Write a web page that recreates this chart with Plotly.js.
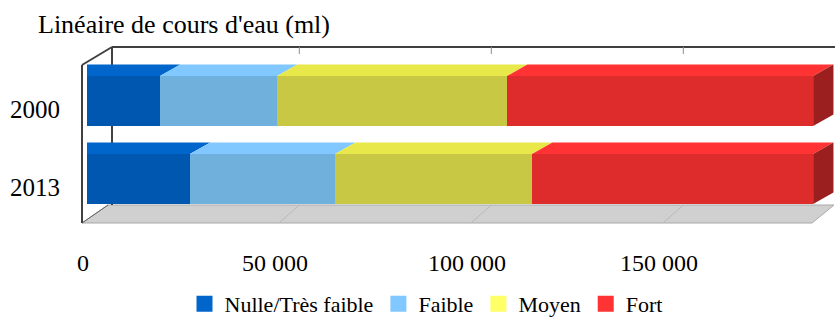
<!DOCTYPE html>
<html>
<head>
<meta charset="utf-8">
<script src="https://cdn.plot.ly/plotly-3.0.1.min.js"></script>
<style>html,body{margin:0;padding:0;background:#fff;}#chart{width:835px;height:318px;}</style>
</head>
<body>
<div id="chart"></div>
<script>
// ---- data ----
const years = ['2000', '2013'];
const seriesNames = ['Nulle/Très faible', 'Faible', 'Moyen', 'Fort'];
const nulle  = [19000, 26800];
const faible = [30500, 37800];
const moyen  = [59900, 51300];
const fort   = [79700, 73200];
const xTicks = [0, 50000, 100000, 150000];
const xTickText = ['0', '50 000', '100 000', '150 000'];

// ---- styles ----
const frontColors = ['#0057b0', '#70b0dc', '#c8c844', '#de2c2c'];
const topColors   = ['#0066cc', '#80c8ff', '#e8e84a', '#ff3333'];
const legendColors = ['#0066cc', '#80c8ff', '#ffff66', '#ff3333'];
const sideColor = '#9c1f1f';
const FONT = 'Liberation Serif, Times New Roman, serif';

const series = [nulle, faible, moyen, fort];
const yPos = years.map((_, i) => i);
const barW = 0.64;
const dX = 5300;   // depth in x data units
const dY = 0.148;  // depth in y data units

const traces = [];
series.forEach((vals, s) => {
  traces.push({
    type: 'bar', orientation: 'h', y: yPos, x: vals, width: barW,
    marker: {color: frontColors[s], line: {width: 0}},
    showlegend: false, hoverinfo: 'x'
  });
});
// legend proxies
series.forEach((vals, s) => {
  traces.push({
    type: 'scatter', mode: 'markers', x: [null], y: [null], name: seriesNames[s],
    marker: {symbol: 'square', size: 19, color: legendColors[s]}, showlegend: true
  });
});

const shapes = [];
// left wall & floor (decor, paper coords)
function px(x) { return (x - 87) / 748; }
function py(y) { return (223 - y) / 171; }
shapes.push({type: 'path', xref: 'paper', yref: 'paper', layer: 'below',
  path: `M${px(82)},${py(223)} L${px(812)},${py(223)} L${px(834)},${py(205)} L${px(108)},${py(205)} Z`,
  fillcolor: '#d0d0d0', line: {color: '#a8a8a8', width: 1}});
shapes.push({type: 'line', xref: 'paper', yref: 'paper', x0: px(82), y0: py(223), x1: px(82), y1: py(65), line: {color: '#404040', width: 2}});
shapes.push({type: 'line', xref: 'paper', yref: 'paper', x0: px(82), y0: py(65), x1: px(112), y1: py(47), line: {color: '#404040', width: 2}, layer: 'below'});
shapes.push({type: 'line', xref: 'paper', yref: 'paper', x0: px(112), y0: py(47), x1: px(835), y1: py(47), line: {color: '#404040', width: 2}, layer: 'below'});
shapes.push({type: 'line', xref: 'paper', yref: 'paper', x0: px(112), y0: py(47), x1: px(112), y1: py(205), line: {color: '#404040', width: 2}, layer: 'below'});
shapes.push({type: 'line', xref: 'paper', yref: 'paper', x0: px(82), y0: py(223), x1: px(108), y1: py(205), line: {color: '#606060', width: 1}, layer: 'below'});
// back ticks and floor grid lines from axis tick values
xTicks.slice(1).forEach(t => {
  shapes.push({type: 'line', xref: 'x', yref: 'paper', x0: t + dX, x1: t + dX, y0: py(47), y1: py(54), line: {color: '#909090', width: 1}, layer: 'below'});
  shapes.push({type: 'line', xref: 'x', yref: 'paper', x0: t, x1: t + dX, y0: py(223), y1: py(205), line: {color: '#b8b8b8', width: 1}, layer: 'below'});
});
// 3D top faces & right side faces from data
yPos.forEach((yc, j) => {
  let start = 0;
  const yt = yc - barW / 2, yb = yc + barW / 2;
  series.forEach((vals, s) => {
    const end = start + vals[j];
    const bx0 = s === 0 ? start : start + dX;
    shapes.push({type: 'path', xref: 'x', yref: 'y', layer: 'above',
      path: `M${start},${yt} L${end},${yt} L${end + dX},${yt - dY} L${bx0},${yt - dY} Z`,
      fillcolor: topColors[s], line: {width: 0}});
    start = end;
  });
  shapes.push({type: 'path', xref: 'x', yref: 'y', layer: 'above',
    path: `M${start},${yt} L${start + dX},${yt - dY} L${start + dX},${yb - dY} L${start},${yb} Z`,
    fillcolor: sideColor, line: {width: 0}});
});

const layout = {
  width: 835, height: 318,
  margin: {l: 87, r: 0, t: 52, b: 95, autoexpand: false},
  paper_bgcolor: '#ffffff', plot_bgcolor: 'rgba(0,0,0,0)',
  barmode: 'stack', bargap: 0,
  font: {family: FONT, color: '#000'},
  title: {text: "Linéaire de cours d'eau (ml)", x: 38 / 835, xanchor: 'left', y: 1 - 24 / 318, yanchor: 'middle',
    font: {family: FONT, size: 26, color: '#000'}},
  xaxis: {range: [0, 194800], tickvals: xTicks, ticktext: xTickText, showgrid: false, zeroline: false,
    showline: false, ticks: '', ticklabelstandoff: 23, ticklabelshift: -4,
    tickfont: {family: FONT, size: 24, color: '#000'}, fixedrange: true},
  yaxis: {range: [1.564, -0.628], tickvals: yPos, ticktext: years, showgrid: false, zeroline: false,
    showline: false, ticks: '', ticklabelstandoff: 26, ticklabelshift: -8,
    tickfont: {family: FONT, size: 25, color: '#000'}, fixedrange: true},
  legend: {orientation: 'h', traceorder: 'normal', x: px(426), xanchor: 'center', y: py(304), yanchor: 'middle',
    font: {family: FONT, size: 22, color: '#000'}, itemwidth: 30, tracegroupgap: 0, bgcolor: 'rgba(0,0,0,0)'},
  shapes: shapes,
  showlegend: true
};

Plotly.newPlot('chart', traces, layout, {displayModeBar: false, staticPlot: true});
</script>
</body>
</html>
